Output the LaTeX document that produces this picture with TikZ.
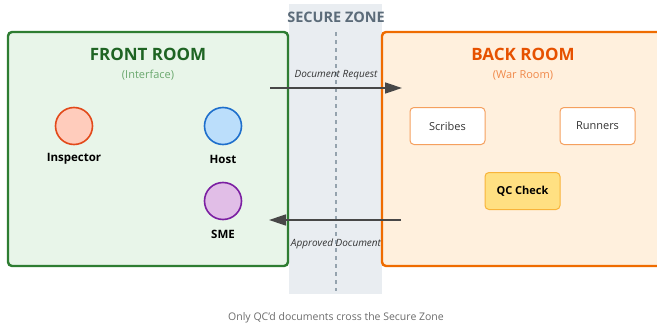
\documentclass[tikz,border=0pt]{standalone}
\usepackage{fontspec}
\setmainfont{Open Sans}
\usetikzlibrary{arrows.meta}

\definecolor{zonefill}{HTML}{E9EDF1}
\definecolor{zonetext}{HTML}{5B6B79}
\definecolor{zonedash}{HTML}{95A3AE}
\definecolor{frontfill}{HTML}{E8F5E9}
\definecolor{frontline}{HTML}{2E7D32}
\definecolor{fronttitle}{HTML}{1E6423}
\definecolor{frontsub}{HTML}{6AA86E}
\definecolor{backfill}{HTML}{FFF0DD}
\definecolor{backline}{HTML}{EF6C00}
\definecolor{backtitle}{HTML}{E65100}
\definecolor{backsub}{HTML}{F0894A}
\definecolor{taskline}{HTML}{F5A05E}
\definecolor{qcfill}{HTML}{FFE082}
\definecolor{qcline}{HTML}{F8B43A}
\definecolor{inspfill}{HTML}{FFCCBC}
\definecolor{inspline}{HTML}{E2491A}
\definecolor{hostfill}{HTML}{BBDEFB}
\definecolor{hostline}{HTML}{1E6FCC}
\definecolor{smefill}{HTML}{E1BEE7}
\definecolor{smeline}{HTML}{7B1FA2}
\definecolor{flow}{HTML}{474747}
\definecolor{caption}{HTML}{6B6B6B}

\tikzset{
  room/.style={rounded corners=4pt, line width=2.4pt},
  roomtitle/.style={font=\fontsize{17}{20}\selectfont\bfseries},
  roomsub/.style={font=\fontsize{11}{13}\selectfont},
  person/.style={circle, minimum size=37pt, inner sep=0pt, line width=1.6pt},
  personlabel/.style={font=\fontsize{11.5}{13}\selectfont\bfseries, text=black},
  task/.style={rectangle, rounded corners=4pt, minimum width=75pt, minimum height=37pt,
    inner sep=0pt, line width=1pt, fill=white, draw=taskline,
    font=\fontsize{11}{13}\selectfont, text=black!80},
  flowarrow/.style={draw=flow, line width=1.5pt,
    -{Triangle[length=17pt, width=11pt]}},
  flowlabel/.style={font=\fontsize{10}{12}\selectfont\itshape, text=black!80},
}

\begin{document}
\begin{tikzpicture}[x=1pt, y=-1pt]
  \useasboundingbox (0,0) rectangle (657,324);

  % secure zone band and its centre line
  \fill[zonefill] (289,4) rectangle (382,294);
  \draw[zonedash, line width=1.5pt, dash pattern=on 4pt off 4pt] (336,32) -- (336,291);
  \node[font=\fontsize{14.5}{17}\selectfont\bfseries, text=zonetext] (zone) at (336,17) {SECURE ZONE};

  % front room
  \draw[room, draw=frontline, fill=frontfill] (8,32) rectangle (288,266);
  \node[roomtitle, text=fronttitle] (fronttitle) at (148,54) {FRONT ROOM};
  \node[roomsub, text=frontsub] (frontsub) at (148,75) {(Interface)};

  \node[person, fill=inspfill, draw=inspline] (inspector) at (74,126) {};
  \node[personlabel] at (74,159) {Inspector};
  \node[person, fill=hostfill, draw=hostline] (host) at (223,126) {};
  \node[personlabel] at (223,159) {Host};
  \node[person, fill=smefill, draw=smeline] (sme) at (223,201) {};
  \node[personlabel] at (223,234) {SME};

  % back room (runs past the right edge)
  \draw[room, draw=backline, fill=backfill] (382,32) rectangle (672,266);
  \node[roomtitle, text=backtitle] (backtitle) at (523,54) {BACK ROOM};
  \node[roomsub, text=backsub] (backsub) at (523,75) {(War Room)};

  \node[task] (scribes) at (447.5,126) {Scribes};
  \node[task] (runners) at (597.5,126) {Runners};
  \node[task, fill=qcfill, draw=qcline, font=\fontsize{11}{13}\selectfont\bfseries, text=black]
    (qc) at (522.5,191) {QC Check};

  % document flow across the zone
  \coordinate (reqstart) at (270,88);
  \coordinate (reqend) at (402,88);
  \coordinate (appstart) at (401,220);
  \coordinate (append) at (269,220);
  \draw[flowarrow] (reqstart) -- (reqend);
  \node[flowlabel] at (336,75) {Document Request};
  \draw[flowarrow] (appstart) -- (append);
  \node[flowlabel] at (336,244) {Approved Document};

  \node[font=\fontsize{10.5}{12}\selectfont, text=caption] (note) at (336,318)
    {Only QC'd documents cross the Secure Zone};
\end{tikzpicture}
\end{document}
